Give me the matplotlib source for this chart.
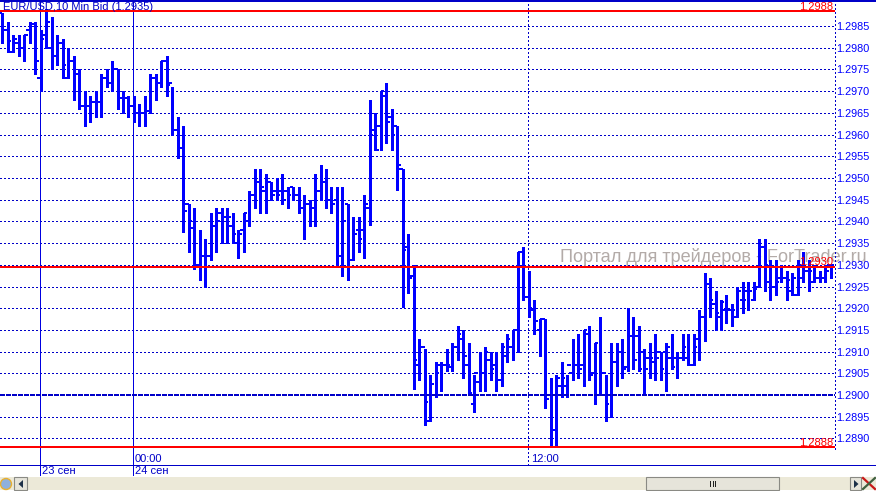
#eur/usd 10 minute bars, dealing terminal look
import matplotlib
matplotlib.use("Agg")
import matplotlib.pyplot as plt
from matplotlib.patches import Rectangle, Circle, Polygon

plt.rcParams["font.family"] = ["Liberation Sans", "DejaVu Sans"]

#bar values
highs = [
    1.2988, 1.2986, 1.2983, 1.2983, 1.2983, 1.2986, 1.2986, 1.2984, 1.2989, 1.2987,
    1.2983, 1.2982, 1.2980, 1.2978, 1.2975, 1.2970, 1.2969, 1.2970, 1.2974, 1.2975,
    1.2977, 1.2975, 1.2970, 1.2969, 1.2969, 1.2967, 1.2969, 1.2974, 1.2974, 1.2977,
    1.2978, 1.2971, 1.2964, 1.2962, 1.2944, 1.2943, 1.2938, 1.2936, 1.2942, 1.2943,
    1.2943, 1.2943, 1.2942, 1.2938, 1.2942, 1.2947, 1.2952, 1.2952, 1.2951, 1.2949,
    1.2950, 1.2951, 1.2948, 1.2948, 1.2948, 1.2946, 1.2945, 1.2951, 1.2953, 1.2952,
    1.2948, 1.2948, 1.2948, 1.2944, 1.2941, 1.2941, 1.2946, 1.2968, 1.2965, 1.2970,
    1.2972, 1.2966, 1.2962, 1.2952, 1.2937, 1.2930, 1.2913, 1.29105, 1.29045, 1.29075,
    1.29075, 1.29105, 1.2912, 1.2916, 1.2915, 1.2912, 1.29045, 1.2910, 1.2911, 1.2910,
    1.2910, 1.2912, 1.2914, 1.2915, 1.2933, 1.2934, 1.29285, 1.2922, 1.29175, 1.29175,
    1.2904, 1.29045, 1.29075, 1.29045, 1.2913, 1.2914, 1.2915, 1.2916, 1.2912, 1.2918,
    1.29045, 1.2912, 1.2912, 1.2913, 1.2920, 1.2918, 1.2916, 1.29105, 1.2912, 1.2914,
    1.2910, 1.2912, 1.2914, 1.2910, 1.2914, 1.2914, 1.2914, 1.29195, 1.2928, 1.2927,
    1.2924, 1.2922, 1.2923, 1.2921, 1.2925, 1.2926, 1.2926, 1.2926, 1.2936, 1.2936,
    1.2931, 1.2931, 1.2930, 1.29285, 1.2928, 1.2931, 1.2933, 1.2931, 1.2930, 1.29285,
    1.2930, 1.2930,
]
lows = [
    1.2981, 1.2979, 1.2979, 1.2978, 1.2977, 1.2981, 1.2974, 1.2970, 1.2980, 1.2975,
    1.2976, 1.2973, 1.2973, 1.2968, 1.2966, 1.2962, 1.2963, 1.2964, 1.2964, 1.2971,
    1.2970, 1.2966, 1.2965, 1.2964, 1.2963, 1.2962, 1.2962, 1.2965, 1.2968, 1.2971,
    1.2969, 1.2960, 1.29545, 1.29375, 1.2933, 1.2929, 1.29265, 1.2925, 1.2931, 1.2933,
    1.2935, 1.2935, 1.2935, 1.29315, 1.2933, 1.2939, 1.2943, 1.2942, 1.2942, 1.2945,
    1.2945, 1.2944, 1.2943, 1.2945, 1.2942, 1.2936, 1.2939, 1.2939, 1.2945, 1.2943,
    1.2942, 1.2930, 1.29275, 1.29265, 1.2931, 1.2933, 1.29315, 1.29392, 1.29565, 1.29565,
    1.2958, 1.29565, 1.29472, 1.29203, 1.29235, 1.29014, 1.29035, 1.2893, 1.2894, 1.28995,
    1.2901, 1.29055, 1.29055, 1.2908, 1.2904, 1.2900, 1.2896, 1.2901, 1.2901, 1.29035,
    1.2901, 1.2902, 1.29075, 1.2908, 1.2910, 1.2922, 1.2918, 1.2914, 1.2909, 1.2897,
    1.2888, 1.2888, 1.28995, 1.28995, 1.29035, 1.2904, 1.2902, 1.29035, 1.2898, 1.2900,
    1.2894, 1.2895, 1.2902, 1.2904, 1.29055, 1.2906, 1.29055, 1.2900, 1.2904, 1.29035,
    1.29035, 1.2901, 1.2906, 1.2904, 1.2908, 1.2907, 1.2907, 1.2908, 1.29125, 1.2918,
    1.2915, 1.2915, 1.29165, 1.2916, 1.2918, 1.2919, 1.29195, 1.2922, 1.2925, 1.2924,
    1.2922, 1.2923, 1.2926, 1.2922, 1.2923, 1.2923, 1.2926, 1.2924, 1.2926, 1.2926,
    1.2926, 1.2927,
]
opens = [
    1.2988, 1.2984, 1.2979, 1.2981, 1.2980, 1.2984, 1.29855, 1.2973, 1.2983, 1.2980,
    1.2978, 1.2981, 1.2973, 1.2977, 1.2974, 1.29665, 1.29665, 1.29675, 1.29675, 1.2973,
    1.2972, 1.2975, 1.29685, 1.29685, 1.29665, 1.2965, 1.2965, 1.29655, 1.2973, 1.2972,
    1.2977, 1.2972, 1.2961, 1.2957, 1.2944, 1.29385, 1.2930, 1.2932, 1.2932, 1.2939,
    1.2942, 1.2941, 1.2939, 1.2935, 1.2938, 1.2940, 1.2946, 1.2949, 1.2947, 1.2949,
    1.2947, 1.2947, 1.2947, 1.2948, 1.2946, 1.2943, 1.2944, 1.2943, 1.2947, 1.2949,
    1.2945, 1.2945, 1.2932, 1.2944, 1.2931, 1.2938, 1.2938, 1.2943, 1.2961, 1.2962,
    1.2969, 1.2964, 1.2962, 1.2952, 1.2934, 1.29275, 1.2907, 1.2911, 1.2894, 1.2900,
    1.2907, 1.2907, 1.29065, 1.2911, 1.2913, 1.2907, 1.2898, 1.2903, 1.2905, 1.2908,
    1.2907, 1.29035, 1.2909, 1.2911, 1.2915, 1.2933, 1.29225, 1.29195, 1.2915, 1.29175,
    1.2900, 1.2892, 1.2902, 1.2902, 1.2905, 1.2907, 1.2907, 1.2914, 1.2905, 1.2900,
    1.2905, 1.2900, 1.29075, 1.2910, 1.29065, 1.29135, 1.29135, 1.2910, 1.29085, 1.29075,
    1.2910, 1.2910, 1.29085, 1.29085, 1.29085, 1.29085, 1.2907, 1.2913, 1.2918, 1.29255,
    1.2921, 1.2918, 1.29195, 1.29195, 1.2918, 1.2922, 1.2924, 1.2922, 1.2925, 1.2934,
    1.2926, 1.2925, 1.2927, 1.2927, 1.2924, 1.2923, 1.2927, 1.29285, 1.2926, 1.2927,
    1.2927, 1.2930,
]
closes = [
    1.2984, 1.29815, 1.2982, 1.2980, 1.2983, 1.29855, 1.2977, 1.2982, 1.2986, 1.2978,
    1.2981, 1.2976, 1.2977, 1.2974, 1.29665, 1.29665, 1.29675, 1.29675, 1.2973, 1.2972,
    1.2975, 1.29685, 1.29685, 1.29665, 1.2965, 1.2965, 1.29655, 1.2973, 1.2972, 1.2977,
    1.29715, 1.2961, 1.2957, 1.29425, 1.2940, 1.2930, 1.2932, 1.2932, 1.2939, 1.2940,
    1.2941, 1.2941, 1.2937, 1.2937, 1.2942, 1.2946, 1.2949, 1.2948, 1.2949, 1.2946,
    1.2946, 1.2945, 1.2946, 1.2946, 1.2943, 1.2944, 1.2943, 1.2947, 1.2949, 1.2945,
    1.2944, 1.2932, 1.2940, 1.2931, 1.2937, 1.2936, 1.2944, 1.2960, 1.29565, 1.2970,
    1.2963, 1.2960, 1.2953, 1.29335, 1.2927, 1.2908, 1.2911, 1.28985, 1.29025, 1.2905,
    1.2907, 1.2907, 1.2911, 1.2914, 1.2909, 1.29005, 1.2905, 1.2905, 1.2910, 1.2906,
    1.29035, 1.2911, 1.2913, 1.2915, 1.2933, 1.29225, 1.2920, 1.2917, 1.29175, 1.2899,
    1.2892, 1.2904, 1.2904, 1.2907, 1.2907, 1.2906, 1.2915, 1.29045, 1.2912, 1.2905,
    1.2898, 1.29075, 1.2910, 1.2906, 1.29135, 1.2908, 1.2906, 1.2906, 1.29085, 1.29085,
    1.2906, 1.2911, 1.29065, 1.29085, 1.2911, 1.2907, 1.2911, 1.2918, 1.29255, 1.2922,
    1.2919, 1.29215, 1.29195, 1.29195, 1.2924, 1.2922, 1.2924, 1.29245, 1.2934, 1.2930,
    1.2925, 1.2926, 1.2927, 1.29265, 1.2927, 1.2930, 1.29285, 1.29285, 1.2927, 1.2927,
    1.29285, 1.2930,
]

#bars where the day and half day lines sit
day_bars = [7, 24]
day_labels = ["23 сен", "24 сен"]
noon_bar = 96
time_labels = ["00:00", "12:00"]

price_ticks = [1.2890, 1.2895, 1.2900, 1.2905, 1.2910, 1.2915, 1.2920, 1.2925, 1.2930,
               1.2935, 1.2940, 1.2945, 1.2950, 1.2955, 1.2960, 1.2965, 1.2970, 1.2975,
               1.2980, 1.2985]
red_levels = [1.29885, 1.29296, 1.2888]
red_labels = ["1.2988", "1.2930", "1.2888"]
round_level = 1.2900

blue = "#0000ff"
line_blue = "#0000c8"
red = "#ff0000"
bar_back = "#ece9d8"

W, H = 876, 491
fig = plt.figure(figsize = (W / 100, H / 100), dpi = 100, facecolor = "white")

#main chart runs from pixel 0 to 835 across and 0 to 476 down
ax = fig.add_axes([0, (H - 476) / H, 835 / W, 476 / H])
ax.set_facecolor("none")
ax.set_xlim(-0.42, 151.78)
ax.set_ylim(1.288134, 1.299101)
for s in ax.spines.values():
    s.set_visible(False)

ax.set_xticks([])
ax.set_yticks(price_ticks)
ax.set_yticklabels(["%.4f" % p for p in price_ticks], fontsize = 7.8, color = blue)
ax.yaxis.tick_right()
ax.tick_params(axis = "y", length = 0, pad = 1)

#dotted grid
dots = (0, (1.2, 2.9))
for p in price_ticks:
    if p != round_level:
        ax.axhline(p, color = line_blue, lw = 0.7, ls = dots, zorder = 1, antialiased = False)
ax.axvline(noon_bar - 0.15, ymin = 11 / 476, color = line_blue, lw = 0.7, ls = dots, zorder = 1,
           antialiased = False)

#watermark sits under the bars
ax.text(560 / W, 1 - 257 / H, "Портал для трейдеров - ForTrader.ru", transform = fig.transFigure,
        ha = "left", va = "center", fontsize = 13.1, color = "#b3aba8", zorder = 1.5, clip_on = False)

#session lines go down into the date strip
for b in day_bars:
    ax.axvline(b - 0.15, color = "#0000e0", lw = 0.7, zorder = 2, antialiased = False)

#ohlc bars
xs = list(range(len(highs)))
ax.vlines(xs, lows, highs, color = blue, lw = 2.14, zorder = 3, antialiased = False, capstyle = "butt")
ax.hlines(opens, [x - 0.62 for x in xs], xs, color = blue, lw = 1.35, zorder = 3, antialiased = False)
ax.hlines(closes, xs, [x + 0.62 for x in xs], color = blue, lw = 1.35, zorder = 3, antialiased = False)

#levels
ax.axhline(round_level, color = line_blue, lw = 1.4, ls = (0, (2.2, 1.0)), zorder = 4, antialiased = False)
for lev in red_levels:
    ax.axhline(lev, color = red, lw = 1.4, zorder = 4, antialiased = False)

#level labels
for lev, lab in zip(red_levels, red_labels):
    ax.text(151.4, lev + 0.00003, lab, fontsize = 8, color = red, ha = "right", va = "baseline", zorder = 5)

#overlay in plain pixels for the frame and the toolbar
ov = fig.add_axes([0, 0, 1, 1])
ov.set_xlim(0, W)
ov.set_ylim(H, 0)
ov.axis("off")
ov.patch.set_alpha(0)

ov.add_patch(Rectangle((0, 0), W, 2, color = line_blue, lw = 0, antialiased = False))
ov.plot([0, W], [465, 465], color = line_blue, lw = 0.7, antialiased = False)
ov.plot([835, 835], [0, 451], color = line_blue, lw = 0.7, ls = dots, antialiased = False)

#title and time labels
ov.text(3, 6.5, "EUR/USD,10 Min Bid (1.2935)", fontsize = 8, color = line_blue, va = "center")
ov.text(135, 459.5, time_labels[0], fontsize = 8, color = line_blue, va = "center")
ov.text(531, 459.5, time_labels[1], fontsize = 8, color = line_blue, va = "center")
ov.text(42, 471.5, day_labels[0], fontsize = 8, color = line_blue, va = "center")
ov.text(135, 471.5, day_labels[1], fontsize = 8, color = line_blue, va = "center")

#toolbar
ov.add_patch(Rectangle((0, 477), W, 13, color = bar_back, lw = 0))
ov.add_patch(Circle((6, 484), 5.5, fc = "#8fb0dc", ec = "#e8b030", lw = 1))
ov.add_patch(Rectangle((14, 477), 13, 13, fc = "#e6e4da", ec = "#8a8a84", lw = 0.8))
ov.add_patch(Polygon([[23, 480], [23, 488], [18.5, 484]], color = "#1c3048", lw = 0))
ov.add_patch(Rectangle((646, 477), 133, 13, fc = "#e6e4da", ec = "#8a8a84", lw = 0.8))
for bx in [710, 712.5, 715]:
    ov.add_patch(Rectangle((bx, 481), 1.2, 6, color = "#202020", lw = 0))
ov.add_patch(Rectangle((850, 477), 11, 13, fc = "#e6e4da", ec = "#8a8a84", lw = 0.8))
ov.add_patch(Polygon([[854, 480], [854, 488], [858.5, 484]], color = "#1c3048", lw = 0))
ov.plot([863, 875], [478, 489], color = "#c81818", lw = 1.6)
ov.plot([863, 875], [489, 478], color = "#406040", lw = 1.6)

fig.savefig("out.png", dpi = 100)
